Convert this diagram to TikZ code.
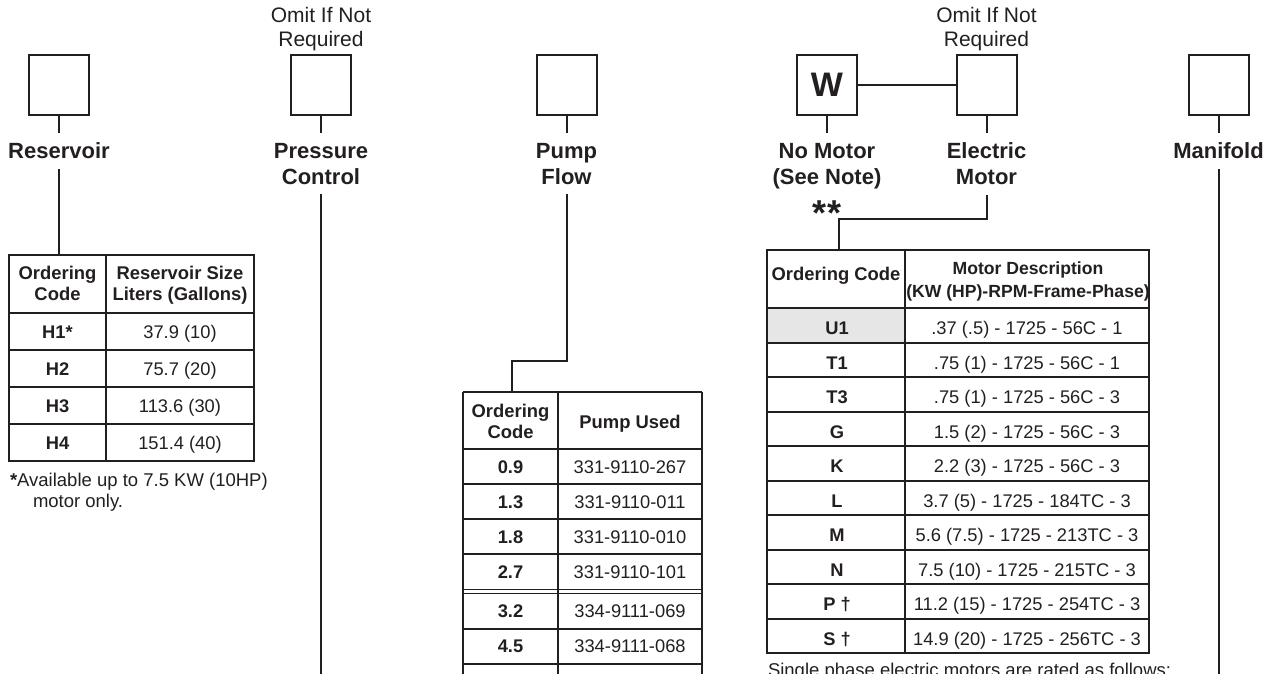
\documentclass[tikz,border=0pt]{standalone}
\usepackage{fontspec}
\setmainfont{Liberation Sans}
\usetikzlibrary{positioning}
\definecolor{ink}{HTML}{231F20}
\definecolor{cellgray}{HTML}{E6E6E6}
\tikzset{
	codebox/.style={draw, minimum size=60pt, inner sep=0pt, outer sep=0pt},
	lbl/.style={font=\fontsize{22}{26}\selectfont\bfseries, align=center, inner sep=0pt, outer ysep=10pt},
	note/.style={font=\fontsize{21}{24.5}\selectfont, align=center, inner sep=0pt},
	th/.style={font=\fontsize{18.4}{21}\selectfont\bfseries, align=center, inner sep=0pt},
	td/.style={font=\fontsize{18.3}{21}\selectfont, inner sep=0pt, text height=13pt, text depth=0pt},
	tdb/.style={td, font=\fontsize{18.3}{21}\selectfont\bfseries},
	fn/.style={font=\fontsize{18.5}{21}\selectfont, inner sep=0pt, anchor=base west}
}

\begin{document}
\begin{tikzpicture}[x=1pt, y=-1pt, line width=2pt, color=ink]

	\useasboundingbox (0,0) rectangle (1267,673);
	\clip (0,0) rectangle (1267,673);

	% Code boxes
	\node[codebox] (resbox) at (59,85) {};
	\node[codebox] (pcbox) at (321,85) {};
	\node[codebox] (pumpbox) at (566.5,85) {};
	\node[codebox, font=\fontsize{34}{34}\selectfont\bfseries] (wbox) at (827,85) {W};
	\node[codebox] (motbox) at (986.5,85) {};
	\node[codebox] (manbox) at (1218.5,85) {};

	\node[note, above=3pt of pcbox] (pcnote) {Omit If Not\\Required};
	\node[note, above=3pt of motbox] (motnote) {Omit If Not\\Required};

	% Labels
	\node[lbl, below=18pt of resbox] (reslbl) {Reservoir};
	\node[lbl, below=18pt of pcbox] (pclbl) {Pressure\\Control};
	\node[lbl, below=18pt of pumpbox] (pumplbl) {Pump\\Flow};
	\node[lbl, below=18pt of wbox] (wlbl) {No Motor\\(See Note)};
	\node[lbl, below=18pt of motbox] (motlbl) {Electric\\Motor};
	\node[lbl, below=18pt of manbox] (manlbl) {Manifold};
	\node[font=\fontsize{36}{36}\selectfont\bfseries, inner sep=0pt, anchor=base] (stars) at (827,225) {**};

	% Connectors
	\coordinate (restop) at (59,255);
	\coordinate (pcend) at (321,700);
	\coordinate (pumpbend) at (512,360.5);
	\coordinate (pumptop) at (512,392);
	\coordinate (motbend) at (839,218.5);
	\coordinate (mottop) at (839,250);
	\coordinate (manend) at (1218.5,700);

	\draw (resbox) -- (reslbl);
	\draw (pcbox) -- (pclbl);
	\draw (pumpbox) -- (pumplbl);
	\draw (wbox) -- (wlbl);
	\draw (motbox) -- (motlbl);
	\draw (manbox) -- (manlbl);
	\draw (wbox) -- (motbox);

	\draw (reslbl) -- (restop);
	\draw (pclbl) -- (pcend);
	\draw (pumplbl) |- (pumpbend) -- (pumptop);
	\draw (motlbl) |- (motbend) -- (mottop);
	\draw (manlbl) -- (manend);

	% Reservoir table
	\draw (9,255) rectangle (254,461);
	\draw (106,255) -- (106,461);
	\foreach \y in {313,350,387,424}
		\draw (9,\y) -- (254,\y);
	\node[th] (reshead1) at (57.5,283.8) {Ordering\\Code};
	\node[th] (reshead2) at (180,285.7) {Reservoir Size\\Liters (Gallons)};
	\foreach \code/\size [count=\i] in {H1*/37.9 (10), H2/75.7 (20), H3/113.6 (30), H4/151.4 (40)} {
		\node[tdb] (rescode\i) at (57.5,{313+37*(\i-0.5)}) {\code};
		\node[td] (ressize\i) at (180,{313+37*(\i-0.5)}) {\size};
	}
	\node[fn] (fnote1) at (9,486) {\textbf{*}Available up to 7.5 KW (10HP)};
	\node[fn] (fnote2) at (32,507) {motor only.};

	% Pump table
	\draw (463,392) -- (702,392);
	\foreach \x in {463,558,702}
		\draw (\x,392) -- (\x,700);
	\foreach \y in {449.3,484.3,519.3,554.3,628.5,663.5}
		\draw (463,\y) -- (702,\y);
	\draw[line width=1.4pt] (463,589.3) -- (702,589.3) (463,593.5) -- (702,593.5);
	\node[th] (pumphead1) at (510.5,421.7) {Ordering\\Code};
	\node[th] (pumphead2) at (630,423.5) {Pump Used};
	\foreach \code/\part/\yc [count=\i] in {0.9/331-9110-267/466.8, 1.3/331-9110-011/501.8, 1.8/331-9110-010/536.8, 2.7/331-9110-101/571.8, 3.2/334-9111-069/611, 4.5/334-9111-068/646} {
		\node[tdb] (pumpcode\i) at (510.5,\yc) {\code};
		\node[td] (pumppart\i) at (630,\yc) {\part};
	}

	% Motor table
	\fill[cellgray] (767,308.3) rectangle (905,342.8);
	\draw (767,250) rectangle (1149,653.3);
	\draw (905,250) -- (905,653.3);
	\foreach \i in {0,...,9}
		\draw (767,{308.3+34.5*\i}) -- (1149,{308.3+34.5*\i});
	\node[th] (mothead1) at (836,275.3) {Ordering Code};
	\node[th, font=\fontsize{17.6}{23.5}\selectfont\bfseries] (mothead2) at (1028,281.2) {Motor Description\\(KW (HP)-RPM-Frame-Phase)};
	\foreach \code/\desc [count=\i] in {U1/.37 (.5) - 1725 - 56C - 1, T1/.75 (1) - 1725 - 56C - 1, T3/.75 (1) - 1725 - 56C - 3, G/1.5 (2) - 1725 - 56C - 3, K/2.2 (3) - 1725 - 56C - 3, L/3.7 (5) - 1725 - 184TC - 3, M/5.6 (7.5) - 1725 - 213TC - 3, N/7.5 (10) - 1725 - 215TC - 3, P †/11.2 (15) - 1725 - 254TC - 3, S †/14.9 (20) - 1725 - 256TC - 3} {
		\node[tdb] (motcode\i) at (837,{308.3+34.5*(\i-0.5)+2.5}) {\code};
		\node[td] (motdesc\i) at (1027,{308.3+34.5*(\i-0.5)+2.5}) {\desc};
	}
	\node[fn] (spnote) at (767,676) {Single phase electric motors are rated as follows:};

\end{tikzpicture}
\end{document}
